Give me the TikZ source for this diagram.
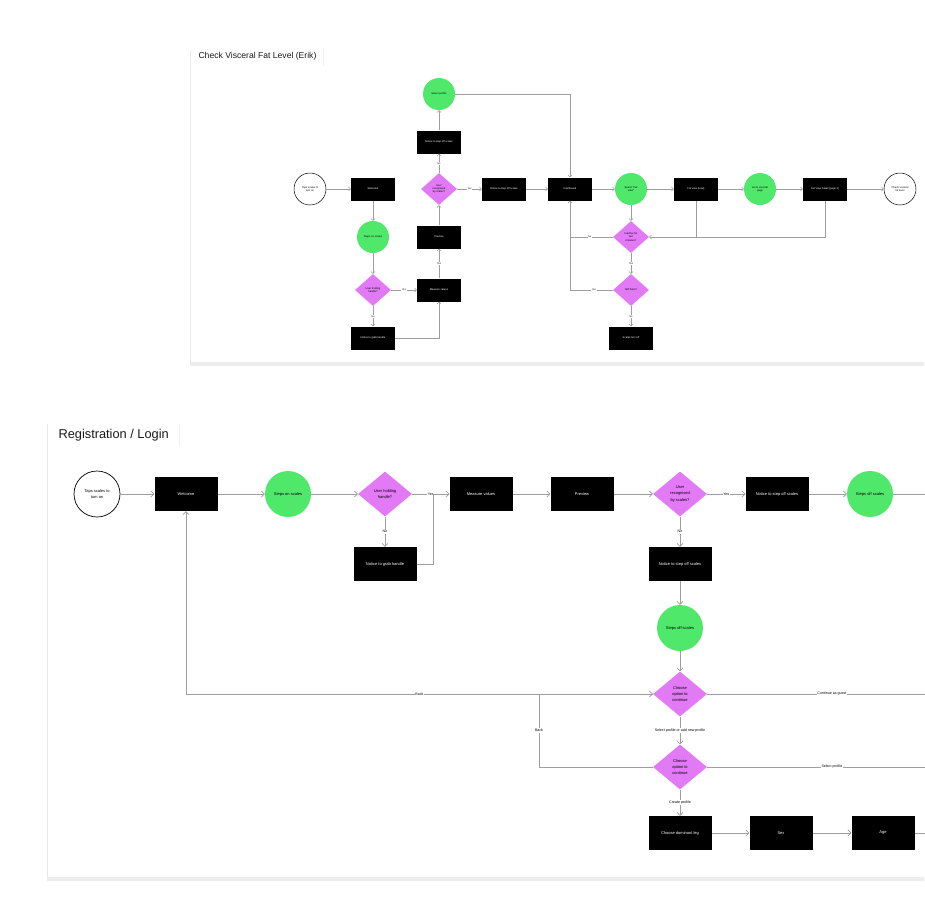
\documentclass[tikz,border=0pt]{standalone}
\usepackage{fontspec}
\setmainfont{Liberation Sans}
\usetikzlibrary{shapes.geometric,arrows.meta,positioning}

\definecolor{stepgreen}{HTML}{50E86A}
\definecolor{askpink}{HTML}{E27AF6}
\definecolor{wirecol}{HTML}{9E9E9E}

\tikzset{
  % small flow (top card)
  tscreen/.style={fill=black,text=white,minimum width=44pt,minimum height=23pt,inner sep=0pt,
    font=\fontsize{2.6}{3.1}\selectfont,align=center},
  tstep/.style={circle,fill=stepgreen,minimum size=32pt,inner sep=0pt,
    font=\fontsize{2.6}{3.1}\selectfont,align=center},
  task/.style={diamond,fill=askpink,minimum width=36pt,minimum height=32pt,inner sep=0pt,
    font=\fontsize{2.6}{3.1}\selectfont,align=center},
  tstart/.style={circle,draw=black,line width=0.5pt,fill=white,minimum size=32pt,inner sep=0pt,
    font=\fontsize{2.6}{3.1}\selectfont,align=center},
  tflow/.style={draw=wirecol,line width=0.45pt,-{Straight Barb[length=2pt,width=4pt]}},
  twire/.style={draw=wirecol,line width=0.45pt},
  tlbl/.style={fill=white,inner sep=0.6pt,font=\fontsize{2.4}{3}\selectfont},
  % large flow (bottom card)
  screen/.style={fill=black,text=white,minimum width=63pt,minimum height=34pt,inner sep=0pt,
    font=\fontsize{4}{4.8}\selectfont,align=center},
  stepbub/.style={circle,fill=stepgreen,minimum size=46pt,inner sep=0pt,
    font=\fontsize{4}{4.8}\selectfont,align=center},
  ask/.style={diamond,fill=askpink,minimum width=54pt,minimum height=45pt,inner sep=0pt,
    font=\fontsize{4}{6.2}\selectfont,align=center},
  startbub/.style={circle,draw=black,line width=0.7pt,fill=white,minimum size=46pt,inner sep=0pt,
    font=\fontsize{4}{6.2}\selectfont,align=center},
  flow/.style={draw=wirecol,line width=0.65pt,-{Straight Barb[length=3pt,width=6pt]}},
  wire/.style={draw=wirecol,line width=0.65pt},
  lbl/.style={fill=white,inner sep=0.8pt,font=\fontsize{3.6}{4}\selectfont},
  cardedge/.style={draw=black!9,line width=0.6pt},
}

\begin{document}
\begin{tikzpicture}[x=1pt,y=-1pt]
\useasboundingbox (0,0) rectangle (924,924);

% cards
\fill[black!7] (190,362) rectangle (924,366);
\draw[cardedge] (190,50) -- (190,362);
\node[anchor=west,font=\fontsize{8.6}{10}\selectfont,text=black!90] (ttitle) at (195,56) {Check Visceral Fat Level (Erik)};
\draw[black!6] (323,48) -- (323,66);

\fill[black!7] (47,877) rectangle (924,881);
\draw[cardedge] (47,424) -- (47,877);
\node[anchor=west,font=\fontsize{12.8}{14}\selectfont,text=black!90] (title) at (55,435) {Registration / Login};
\draw[black!6] (179,424) -- (179,446);

% top flow
\node[tstart] (ttap) at (310,189) {Taps scales to\\turn on};
\node[tscreen] (twel) at (373,189) {Welcome};
\node[tstep] (tson) at (373,237) {Steps on scales};
\node[task] (thold) at (373,290) {User holding\\handle?};
\node[tscreen] (tgrab) at (373,338) {Notice to grab handle};
\node[tscreen] (tmeas) at (439,290) {Measure values};
\node[tscreen] (tprev) at (439,237) {Preview};
\node[task] (trec) at (439,189) {User\\recognised\\by scales?};
\node[tscreen] (tnup) at (439,142) {Notice to step off scales};
\node[tstep] (tsel) at (439,94) {Select profile};
\node[tscreen] (tnoff) at (504,189) {Notice to step off scales};
\node[tscreen] (tdash) at (570,189) {Dashboard};
\node[tstep] (tfv) at (631,189) {Select "Fat\\view"};
\node[tscreen] (tfat) at (696,189) {Fat view (total)};
\node[tstep] (tvis) at (760,189) {Go to visceral\\page};
\node[tscreen] (tdet) at (825,189) {Fat View Detail (page 2)};
\node[tstart] (tchk) at (900,189) {Check visceral\\fat level};
\node[task] (tidle) at (631,237) {Inactive for\\two\\minutes?};
\node[task] (tstill) at (631,290) {Still there?};
\node[tscreen] (toff) at (631,338) {Scales turn off};

\draw[tflow] (ttap) -- (twel);
\draw[tflow] (twel) -- (tson);
\draw[tflow] (tson) -- (thold);
\draw[tflow] (thold) -- node[tlbl]{Yes} (tmeas);
\draw[tflow] (thold) -- node[tlbl]{No} (tgrab);
\draw[tflow] (tgrab.east) -| (tmeas.south);
\draw[tflow] (tmeas) -- node[tlbl]{Yes} (tprev);
\draw[tflow] (tprev) -- (trec);
\draw[tflow] (trec) -- node[tlbl]{No} (tnup);
\draw[tflow] (tnup) -- (tsel);
\draw[tflow] (tsel.east) -| (tdash.north);
\draw[tflow] (trec) -- node[tlbl]{Yes} (tnoff);
\draw[tflow] (tnoff) -- (tdash);
\draw[tflow] (tdash) -- (tfv);
\draw[tflow] (tfv) -- (tfat);
\draw[tflow] (tfat) -- (tvis);
\draw[tflow] (tvis) -- (tdet);
\draw[tflow] (tdet) -- (tchk);
\draw[tflow] (tfv) -- (tidle);
\draw[tflow] (tfat.south) |- (tidle.east);
\draw[twire] (tdet.south) |- (tfat.south |- tidle.east);
\draw[tflow] (tidle.west) -| node[tlbl,pos=0.27]{No} (tdash.south);
\draw[tflow] (tidle) -- node[tlbl]{Yes} (tstill);
\draw[tflow] (tstill.west) -| node[tlbl,pos=0.22]{Yes} (tdash.south);
\draw[tflow] (tstill) -- node[tlbl]{No} (toff);

% bottom flow
\node[startbub] (tap) at (97,494) {Taps scales to\\turn on};
\node[screen] (wel) at (186,494) {Welcome};
\node[stepbub] (son) at (288,494) {Steps on scales};
\node[ask] (hold) at (385,494) {User holding\\handle?};
\node[screen] (grab) at (385,564) {Notice to grab handle};
\coordinate (grabin) at (433,494);
\node[screen] (meas) at (481,494) {Measure values};
\node[screen] (prev) at (582,494) {Preview};
\node[ask] (rec) at (680,494) {User\\recognised\\by scales?};
\node[screen] (noff) at (777,494) {Notice to step off scales};
\node[stepbub] (soff) at (870,494) {Steps off scales};
\coordinate (outa) at (926,494);
\node[screen] (nbelow) at (680,564) {Notice to step off scales};
\node[stepbub] (soff2) at (680,628) {Steps off scales};
\node[ask] (opt) at (680,694) {Choose\\option to\\continue};
\node[ask] (opt2) at (680,767) {Choose\\option to\\continue};
\coordinate (bk) at (539,767);
\coordinate (outb) at (926,694);
\coordinate (outc) at (926,767);
\node[screen] (leg) at (680,833) {Choose dominant leg};
\node[screen] (sex) at (781,833) {Sex};
\node[screen] (age) at (883,833) {Age};
\coordinate (outd) at (926,833);

\draw[flow] (tap) -- (wel);
\draw[flow] (wel) -- (son);
\draw[flow] (son) -- (hold);
\draw[flow] (hold) -- node[lbl]{Yes} (meas);
\draw[flow] (hold) -- node[lbl]{No} (grab);
\draw[wire] (grab.east) -| (grabin);
\draw[flow] (meas) -- (prev);
\draw[flow] (prev) -- (rec);
\draw[flow] (rec) -- node[lbl]{Yes} (noff);
\draw[flow] (noff) -- (soff);
\draw[wire] (soff) -- (outa);
\draw[flow] (rec) -- node[lbl]{No} (nbelow);
\draw[flow] (nbelow) -- (soff2);
\draw[flow] (soff2) -- (opt);
\draw[flow] (opt.west) -- node[lbl]{Back} (opt.west -| wel.south) -- (wel.south);
\draw[flow] (opt2.west) -- (bk) |- node[lbl,pos=0.25]{Back} (opt.west);
\draw[wire] (opt) -- node[lbl,pos=0.57]{Continue as guest} (outb);
\draw[flow] (opt) -- node[lbl]{Select profile or add new profile} (opt2);
\draw[wire] (opt2) -- node[lbl,pos=0.57]{Select profile} (outc);
\draw[flow] (opt2) -- node[lbl]{Create profile} (leg);
\draw[flow] (leg) -- (sex);
\draw[flow] (sex) -- (age);
\draw[wire] (age) -- (outd);
\end{tikzpicture}
\end{document}
